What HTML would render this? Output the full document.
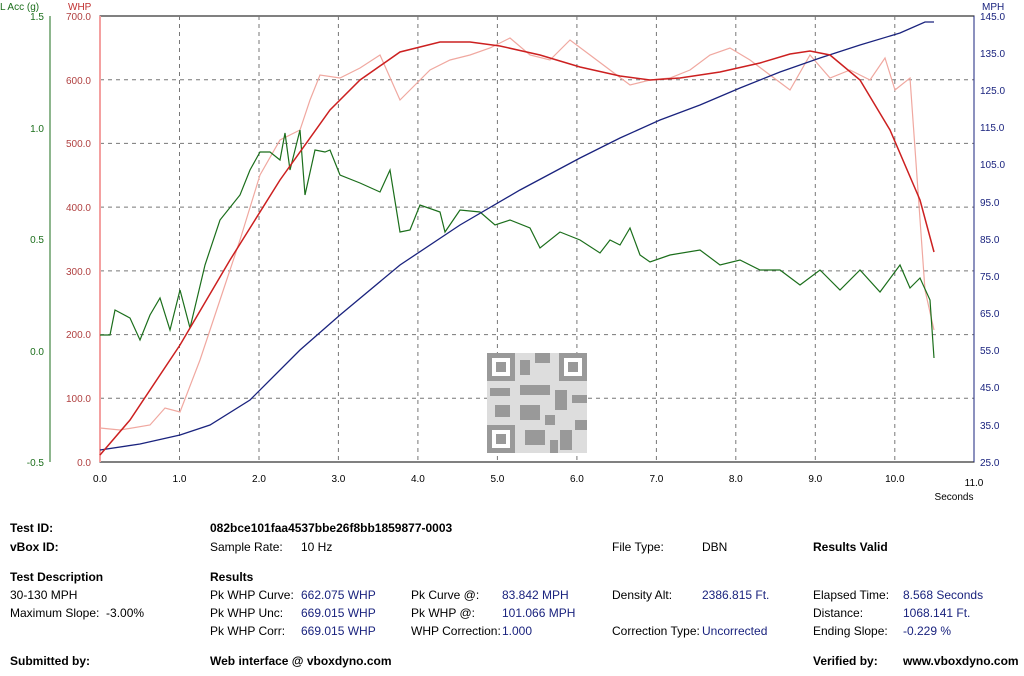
<!DOCTYPE html>
<html><head><style>
body{margin:0;background:#fff;width:1024px;height:676px;overflow:hidden;font-family:"Liberation Sans",sans-serif;position:relative}
.t{position:absolute;font-size:12px;color:#000;white-space:nowrap}
.b{font-weight:bold}
.v{color:#1a237e}
</style></head><body>
<svg width="1024" height="510" style="position:absolute;left:0;top:0" font-family="Liberation Sans, sans-serif" font-size="10">
<rect x="100" y="16" width="874" height="446" fill="#fff" stroke="#000"/>
<g stroke="#777" stroke-dasharray="4,4">
<line x1="100" x2="974" y1="79.7" y2="79.7"/><line x1="100" x2="974" y1="143.4" y2="143.4"/><line x1="100" x2="974" y1="207.1" y2="207.1"/><line x1="100" x2="974" y1="270.9" y2="270.9"/><line x1="100" x2="974" y1="334.6" y2="334.6"/><line x1="100" x2="974" y1="398.3" y2="398.3"/>
<line y1="16" y2="462" x1="179.5" x2="179.5"/><line y1="16" y2="462" x1="259" x2="259"/><line y1="16" y2="462" x1="338.4" x2="338.4"/><line y1="16" y2="462" x1="417.9" x2="417.9"/><line y1="16" y2="462" x1="497.4" x2="497.4"/><line y1="16" y2="462" x1="576.9" x2="576.9"/><line y1="16" y2="462" x1="656.4" x2="656.4"/><line y1="16" y2="462" x1="735.8" x2="735.8"/><line y1="16" y2="462" x1="815.3" x2="815.3"/><line y1="16" y2="462" x1="894.8" x2="894.8"/>
</g>
<line x1="50" y1="16" x2="50" y2="462" stroke="#1b6e1b"/>
<line x1="100" y1="16" x2="100" y2="462" stroke="#f4a0a0" stroke-width="2"/>
<line x1="974" y1="16" x2="974" y2="462" stroke="#1a237e"/>
<g fill="#1b6e1b" text-anchor="end"><text x="44" y="20">1.5</text><text x="44" y="132">1.0</text><text x="44" y="243">0.5</text><text x="44" y="355">0.0</text><text x="44" y="466">-0.5</text></g>
<text x="0" y="10" fill="#1b6e1b">L Acc (g)</text>
<text x="68" y="10" fill="#c03030">WHP</text>
<g fill="#b04040" text-anchor="end"><text x="91" y="20">700.0</text><text x="91" y="84">600.0</text><text x="91" y="147">500.0</text><text x="91" y="211">400.0</text><text x="91" y="275">300.0</text><text x="91" y="338">200.0</text><text x="91" y="402">100.0</text><text x="91" y="466">0.0</text></g>
<text x="982" y="10" fill="#1a237e">MPH</text>
<g fill="#1a237e"><text x="980" y="20">145.0</text><text x="980" y="57">135.0</text><text x="980" y="94">125.0</text><text x="980" y="131">115.0</text><text x="980" y="168">105.0</text><text x="980" y="206">95.0</text><text x="980" y="243">85.0</text><text x="980" y="280">75.0</text><text x="980" y="317">65.0</text><text x="980" y="354">55.0</text><text x="980" y="391">45.0</text><text x="980" y="429">35.0</text><text x="980" y="466">25.0</text></g>
<g text-anchor="middle"><text x="100" y="482">0.0</text><text x="179.5" y="482">1.0</text><text x="259" y="482">2.0</text><text x="338.4" y="482">3.0</text><text x="417.9" y="482">4.0</text><text x="497.4" y="482">5.0</text><text x="576.9" y="482">6.0</text><text x="656.4" y="482">7.0</text><text x="735.8" y="482">8.0</text><text x="815.3" y="482">9.0</text><text x="894.8" y="482">10.0</text><text x="974" y="486">11.0</text><text x="954" y="500">Seconds</text></g>
<g fill="#999">
<rect x="487" y="353" width="100" height="100" fill="#ddd"/>
<rect x="487" y="353" width="28" height="28"/><rect x="559" y="353" width="28" height="28"/><rect x="487" y="425" width="28" height="28"/>
<rect x="492" y="358" width="18" height="18" fill="#fff"/><rect x="564" y="358" width="18" height="18" fill="#fff"/><rect x="492" y="430" width="18" height="18" fill="#fff"/>
<rect x="496" y="362" width="10" height="10"/><rect x="568" y="362" width="10" height="10"/><rect x="496" y="434" width="10" height="10"/>
<rect x="520" y="360" width="10" height="15"/><rect x="535" y="353" width="15" height="10"/><rect x="490" y="388" width="20" height="8"/><rect x="520" y="385" width="30" height="10"/><rect x="555" y="390" width="12" height="20"/><rect x="572" y="395" width="15" height="8"/><rect x="495" y="405" width="15" height="12"/><rect x="520" y="405" width="20" height="15"/><rect x="545" y="415" width="10" height="10"/><rect x="525" y="430" width="20" height="15"/><rect x="560" y="430" width="12" height="20"/><rect x="575" y="420" width="12" height="10"/><rect x="550" y="440" width="8" height="13"/>
</g>
<polyline fill="none" stroke="#f0a8a0" stroke-width="1.2" points="100,428 120,430 150,425 165,408 180,412 200,360 220,300 240,240 260,175 280,140 300,130 310,100 320,75 340,78 360,68 380,55 400,100 410,90 430,70 450,60 470,55 490,48 510,38 530,55 550,60 570,40 590,55 610,70 630,85 650,80 670,78 690,70 710,55 730,48 750,60 770,75 790,90 810,55 830,78 850,70 870,80 885,58 895,90 910,78 925,290 934,330"/>
<polyline fill="none" stroke="#1b6e1b" stroke-width="1.2" points="100,335 110,335 115,310 130,318 140,340 150,315 160,298 170,330 180,290 190,328 205,265 220,220 240,195 250,170 260,152 270,152 280,160 285,133 290,170 300,130 305,195 315,150 325,152 330,150 340,175 360,183 380,192 390,170 400,232 410,230 420,205 440,212 445,232 460,210 480,212 495,225 510,220 530,228 540,248 560,232 580,240 600,253 610,240 620,245 630,228 640,255 650,262 670,255 700,250 720,265 740,260 760,270 780,270 800,285 820,270 840,290 860,270 880,292 900,265 910,288 920,278 930,300 934,358"/>
<polyline fill="none" stroke="#1a237e" stroke-width="1.3" points="100,450 140,444 180,435 210,425 250,400 300,350 340,315 400,265 460,225 520,190 580,158 620,138 660,120 700,105 740,88 780,72 820,58 860,45 900,33 925,22 934,22"/>
<polyline fill="none" stroke="#cc2020" stroke-width="1.5" points="100,455 130,420 180,345 230,260 280,180 330,110 360,80 400,52 440,42 470,42 500,46 540,55 580,67 620,76 650,80 680,78 720,72 760,63 790,54 810,51 830,55 860,80 890,130 920,200 934,252"/>
</svg>
<div class="t b" style="left:10px;top:521px">Test ID:</div>
<div class="t b" style="left:210px;top:521px">082bce101faa4537bbe26f8bb1859877-0003</div>
<div class="t b" style="left:10px;top:540px">vBox ID:</div>
<div class="t" style="left:210px;top:540px">Sample Rate:</div><div class="t" style="left:301px;top:540px">10 Hz</div>
<div class="t" style="left:612px;top:540px">File Type:</div><div class="t" style="left:702px;top:540px">DBN</div>
<div class="t b" style="left:813px;top:540px">Results Valid</div>
<div class="t b" style="left:10px;top:570px">Test Description</div>
<div class="t b" style="left:210px;top:570px">Results</div>
<div class="t" style="left:10px;top:588px">30-130 MPH</div>
<div class="t" style="left:10px;top:606px">Maximum Slope:&nbsp; -3.00%</div>
<div class="t" style="left:210px;top:588px">Pk WHP Curve:</div><div class="t v" style="left:301px;top:588px">662.075 WHP</div>
<div class="t" style="left:210px;top:606px">Pk WHP Unc:</div><div class="t v" style="left:301px;top:606px">669.015 WHP</div>
<div class="t" style="left:210px;top:624px">Pk WHP Corr:</div><div class="t v" style="left:301px;top:624px">669.015 WHP</div>
<div class="t" style="left:411px;top:588px">Pk Curve @:</div><div class="t v" style="left:502px;top:588px">83.842 MPH</div>
<div class="t" style="left:411px;top:606px">Pk WHP @:</div><div class="t v" style="left:502px;top:606px">101.066 MPH</div>
<div class="t" style="left:411px;top:624px">WHP Correction:</div><div class="t v" style="left:502px;top:624px">1.000</div>
<div class="t" style="left:612px;top:588px">Density Alt:</div><div class="t v" style="left:702px;top:588px">2386.815 Ft.</div>
<div class="t" style="left:612px;top:624px">Correction Type:</div><div class="t v" style="left:702px;top:624px">Uncorrected</div>
<div class="t" style="left:813px;top:588px">Elapsed Time:</div><div class="t v" style="left:903px;top:588px">8.568 Seconds</div>
<div class="t" style="left:813px;top:606px">Distance:</div><div class="t v" style="left:903px;top:606px">1068.141 Ft.</div>
<div class="t" style="left:813px;top:624px">Ending Slope:</div><div class="t v" style="left:903px;top:624px">-0.229 %</div>
<div class="t b" style="left:10px;top:654px">Submitted by:</div>
<div class="t b" style="left:210px;top:654px">Web interface @ vboxdyno.com</div>
<div class="t b" style="left:813px;top:654px">Verified by:</div>
<div class="t b" style="left:903px;top:654px">www.vboxdyno.com</div>
</body></html>
